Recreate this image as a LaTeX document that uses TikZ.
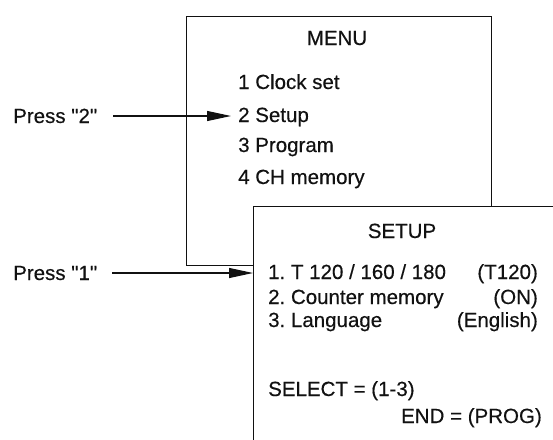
\documentclass[tikz,border=0pt]{standalone}
\usepackage{fontspec}
\setmainfont{Liberation Sans}
\newfontfamily\scanfont{Liberation Sans}[FakeBold=0.4]
\usepackage{tikz}
\usetikzlibrary{arrows.meta, positioning}
\definecolor{inkblack}{HTML}{111111}

\tikzset{
  screen/.style={draw=inkblack, line width=1.1pt, fill=white, inner sep=0pt, anchor=north west},
  txt/.style={inner sep=0pt, text height=14pt, text depth=0pt, text=inkblack, font=\scanfont\fontsize{20.5}{24}\selectfont\frenchspacing},
  press/.style={-{Triangle[length=24pt, width=10pt]}, line width=1.1pt, draw=inkblack}
}

\begin{document}
\begin{tikzpicture}[x=1pt, y=-1pt]
  \useasboundingbox (0,0) rectangle (553,439);
  \clip (0,0) rectangle (553,439);

  % Pantalla MENU
  \node[screen, minimum width=305pt, minimum height=249pt] (menu) at (186,16) {};
  \node[txt, anchor=base] (menut) at (337,45) {MENU};
  \node[txt, anchor=base west] (m1) at (238,89) {1 Clock set};
  \node[txt, anchor=base west] (m2) at (238,122) {2 Setup};
  \node[txt, anchor=base west] (m3) at (238,152) {3 Program};
  \node[txt, anchor=base west] (m4) at (238,184) {4 CH memory};

  % Pantalla SETUP (tapa la anterior)
  \node[screen, minimum width=340pt, minimum height=260pt] (setup) at (253,206) {};
  \node[txt, anchor=base] (setupt) at (402,238) {SETUP};
  \node[txt, anchor=base west] (s1) at (268,279) {1. T 120 / 160 / 180};
  \node[txt, anchor=base west] (s2) at (268,304) {2. Counter memory};
  \node[txt, anchor=base west] (s3) at (268,327) {3. Language};
  \node[txt, anchor=base east] (v1) at (538,279) {(T120)};
  \node[txt, anchor=base east] (v2) at (538,304) {(ON)};
  \node[txt, anchor=base east] (v3) at (538,327) {(English)};
  \node[txt, anchor=base west] (sel) at (268,396) {SELECT = (1-3)};
  \node[txt, anchor=base east] (fin) at (542,423) {END = (PROG)};

  % Teclas
  \node[txt, anchor=base west] (p2) at (13,123) {Press \textquotedbl 2\textquotedbl};
  \node[txt, anchor=base west] (p1) at (13,280) {Press \textquotedbl 1\textquotedbl};
  \draw[press, shorten <=16pt, shorten >=7pt] (p2.east) -- (p2.east -| m2.west);
  \draw[press, shorten <=15pt] (p1.east) -- (p1.east -| setup.west);
\end{tikzpicture}
\end{document}
